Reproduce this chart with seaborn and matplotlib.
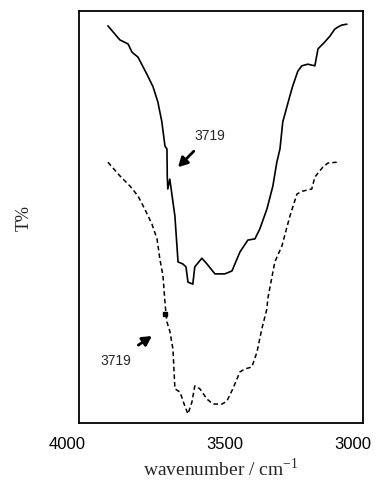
import numpy as np
import pandas as pd
import seaborn as sns
import matplotlib
matplotlib.use("Agg")
import matplotlib.pyplot as plt
from matplotlib.transforms import ScaledTranslation

# IR spectra (wavenumber / cm-1, T% in arbitrary units)
wn_top = [3898, 3856, 3827, 3813, 3792, 3761, 3739, 3722, 3708, 3697, 3690, 3689,
          3687, 3680, 3662, 3651, 3634, 3623, 3616, 3599, 3592, 3567, 3549, 3521,
          3486, 3461, 3433, 3405, 3380, 3363, 3338, 3317, 3303, 3292, 3282, 3257,
          3247, 3229, 3215, 3194, 3169, 3158, 3134, 3116, 3099, 3088, 3074, 3056]
t_top = [96.4, 93.0, 92.0, 90.0, 88.8, 84.7, 81.6, 77.9, 73.1, 67.2, 66.5, 60.0,
         56.8, 59.2, 50.2, 39.1, 38.6, 37.9, 34.2, 33.7, 37.9, 40.0, 38.6, 36.2,
         36.2, 36.9, 41.5, 44.4, 44.7, 47.1, 51.9, 57.5, 63.3, 66.5, 73.1, 79.4,
         81.8, 85.4, 86.7, 87.1, 86.7, 90.8, 92.5, 93.9, 95.6, 96.1, 96.6, 96.8]

wn_bot = [3898, 3856, 3820, 3792, 3768, 3743, 3725, 3715, 3704, 3696, 3694, 3690,
          3680, 3669, 3662, 3644, 3627, 3616, 3602, 3592, 3574, 3549, 3528, 3496,
          3479, 3458, 3433, 3416, 3391, 3373, 3356, 3338, 3335, 3310, 3285, 3257,
          3232, 3211, 3180, 3169, 3141, 3123, 3092]
t_bot = [63.3, 60.0, 57.5, 55.1, 51.9, 48.3, 44.7, 39.8, 35.7, 28.4, 26.9, 24.5,
         22.3, 18.0, 8.3, 7.5, 4.1, 2.2, 5.1, 9.0, 8.3, 5.8, 4.6, 4.6,
         5.3, 8.3, 12.4, 13.1, 13.6, 17.2, 22.8, 27.7, 30.1, 39.1, 43.0, 50.2,
         55.6, 56.3, 56.8, 59.7, 62.1, 63.1, 63.3]

tick_vals = [4000, 3500, 3000]
tick_text = ["4000", "3500", "3000"]

peak_label = "3719"
peak_top = (3651, 62.1)   # arrow head, upper curve
peak_bot = (3743, 21.1)   # arrow head, lower curve
mark_bot = (3696, 26.5)

df_top = pd.DataFrame({"wn": wn_top, "T": t_top})
df_bot = pd.DataFrame({"wn": wn_bot, "T": t_bot})

sns.set_style("white")
plt.rcParams["font.family"] = ["Liberation Sans", "DejaVu Sans"]
plt.rcParams["mathtext.fontset"] = "custom"
plt.rcParams["mathtext.rm"] = "Liberation Serif"

fig = plt.figure(figsize=(3.76, 4.81), dpi=100)
ax = fig.add_axes([0.210, 0.1185, 0.755, 0.8565])

sns.lineplot(data=df_top, x="wn", y="T", ax=ax, color="black", lw=1.2,
             sort=False, estimator=None)
sns.lineplot(data=df_bot, x="wn", y="T", ax=ax, color="black", lw=1.1,
             sort=False, estimator=None, linestyle=(0, (3, 2)))
ax.plot([mark_bot[0]], [mark_bot[1]], marker="s", ms=3, color="black")

arrow = dict(arrowstyle="-|>,head_length=0.55,head_width=0.3",
             color="black", lw=2.0, shrinkA=6, shrinkB=0)
ax.annotate(peak_label, xy=peak_top, xytext=(3539, 69.9), fontsize=10,
            ha="center", va="center", arrowprops=arrow)
ax.annotate(peak_label, xy=peak_bot, xytext=(3870, 15.3), fontsize=10,
            ha="center", va="center", arrowprops=arrow)

ax.set_xlim(4000, 3000)
ax.set_ylim(0, 100)
ax.set_xticks(tick_vals)
ax.set_xticklabels(tick_text, fontsize=12)
ax.set_yticks([])
ax.tick_params(axis="x", direction="in", length=6, width=1, pad=9, colors="black")
# labels sit a little off their ticks in the original
for lab, dx in zip(ax.get_xticklabels(), [-12, 4, -10]):
    lab.set_transform(lab.get_transform() + ScaledTranslation(dx / 100, 0, fig.dpi_scale_trans))
for s in ax.spines.values():
    s.set_color("black")
    s.set_linewidth(1.3)

ax.set_xlabel(r"wavenumber / cm$^{\mathrm{-1}}$", fontsize=14,
              family="Liberation Serif", labelpad=4)
ax.set_ylabel("T%", fontsize=13, family="Liberation Serif", labelpad=33)

fig.savefig("out.png", dpi=100)
